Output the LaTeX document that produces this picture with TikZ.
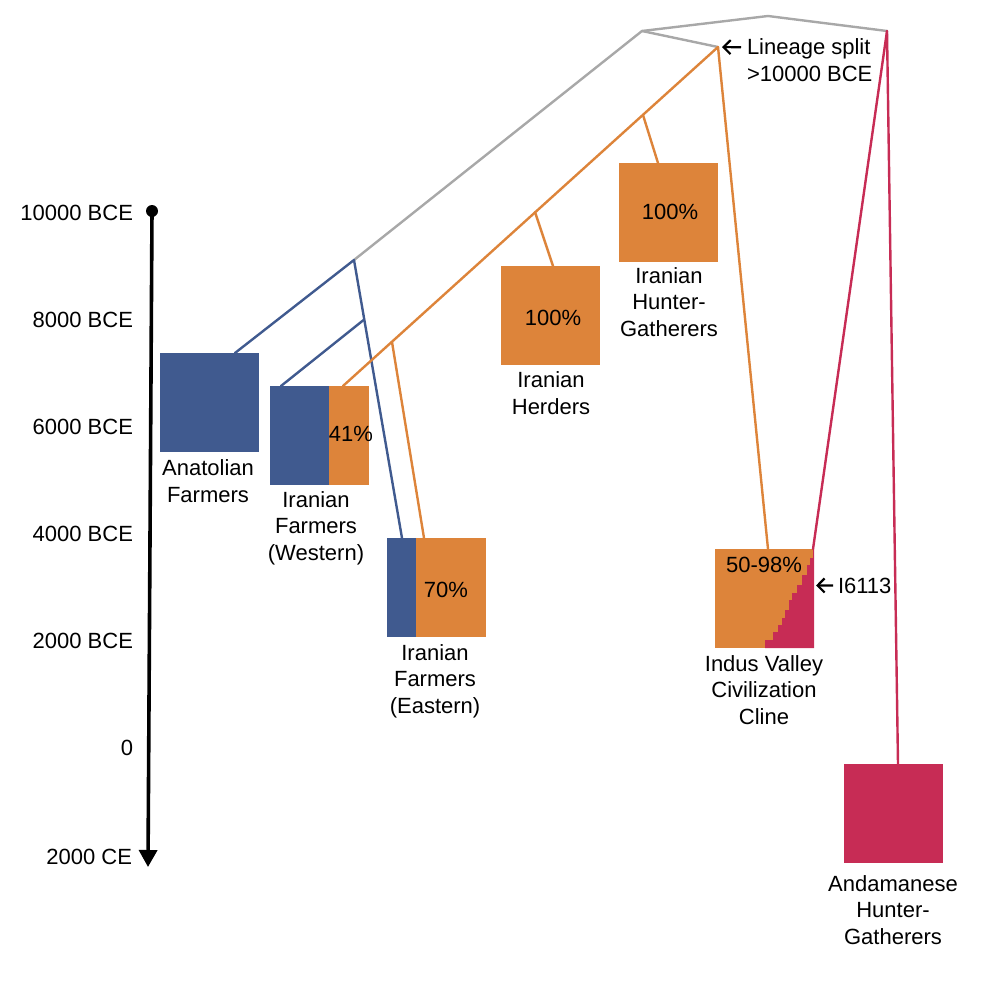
\documentclass[tikz,border=0pt]{standalone}
\usepackage{fontspec}
\setmainfont{Liberation Sans}
\usetikzlibrary{arrows.meta,calc}
\definecolor{cblue}{HTML}{405A8F}
\definecolor{corange}{HTML}{DD843A}
\definecolor{cmag}{HTML}{C72C55}
\definecolor{cgray}{HTML}{A8A8A8}
\begin{document}
\begin{tikzpicture}[x=1pt,y=-1pt,
  box/.style={draw=none,rectangle,minimum width=99pt,minimum height=99pt,inner sep=0pt,outer sep=0pt,anchor=north west},
  txt/.style={font=\fontsize{22}{26.5}\selectfont,inner sep=0pt,outer sep=0pt},
  lab/.style={txt,align=center,anchor=base},
  pct/.style={txt,anchor=base},
  tl/.style={txt,anchor=base east},
  link/.style={line width=2.4pt,line cap=round,line join=round},
  pt/.style={coordinate}]
\useasboundingbox (0,0) rectangle (996,996);
% timeline
\node[circle,fill=black,inner sep=0pt,minimum size=12pt] (tltop) at (152,211) {};
\coordinate (tlbot) at (148,867);
\draw[line width=3.6pt,-{Triangle[length=17pt,width=18pt]}] (tltop.center) -- (tlbot);
\node[tl] (t1) at (133,220) {10000 BCE};
\node[tl] (t2) at (133,327) {8000 BCE};
\node[tl] (t3) at (133,434) {6000 BCE};
\node[tl] (t4) at (133,541) {4000 BCE};
\node[tl] (t5) at (133,648) {2000 BCE};
\node[tl] (t6) at (133,755) {0};
\node[tl] (t7) at (132,864) {2000 CE};
% boxes
\node[box,fill=cblue] (anat) at (160,353) {};
\node[box,fill=corange] (west) at (270,386) {};
\fill[cblue] (west.north west) rectangle ($(west.south west)+(59,0)$);
\node[box,fill=corange] (east) at (387,538) {};
\fill[cblue] (east.north west) rectangle ($(east.south west)+(29,0)$);
\node[box,fill=corange] (herd) at (501,266) {};
\node[box,fill=corange] (hg) at (619,163) {};
\node[box,fill=corange] (indus) at (715,549) {};
\fill[cmag] (813,549) -- (813,558) -- (810,558) -- (810,565) -- (807,565) -- (807,575) -- (802,575) -- (802,585) -- (797,585) -- (797,593) -- (792,593) -- (792,600) -- (789,600) -- (789,610) -- (785,610) -- (785,618) -- (782,618) -- (782,625) -- (778,625) -- (778,632) -- (773,632) -- (773,640) -- (765,640) -- (765,648) -- (814,648) -- (814,549) -- cycle;
\node[box,fill=cmag] (anda) at (844,764) {};
% percentages
\node[pct] (p41) at (351,441) {41\%};
\node[pct] (p70) at (446,597) {70\%};
\node[pct] (pherd) at (553,325) {100\%};
\node[pct] (phg) at (670,219) {100\%};
\node[pct] (pind) at (764,572) {50-98\%};
% labels (base anchor = last line baseline)
\node[lab] (lanat) at (208,502) {Anatolian\\Farmers};
\node[lab] (lwest) at (316,560) {Iranian\\Farmers\\(Western)};
\node[lab] (least) at (435,713) {Iranian\\Farmers\\(Eastern)};
\node[lab] (lherd) at (551,414) {Iranian\\Herders};
\node[lab] (lhg) at (669,336) {Iranian\\Hunter-\\Gatherers};
\node[lab] (lind) at (764,724) {Indus Valley\\Civilization\\Cline};
\node[lab] (landa) at (893,944) {Andamanese\\Hunter-\\Gatherers};
% split points
\node[pt] (g1) at (642,31) {};
\node[pt] (g2) at (768,16) {};
\node[pt] (g3) at (887,31) {};
\node[pt] (bs) at (354,260) {};
\node[pt] (bs2) at (363.6,320) {};
\node[pt] (os) at (718,47) {};
\node[pt] (osh) at (535,212) {};
\node[pt] (oshg) at (643,115) {};
\node[pt] (ose) at (392,342) {};
% gray lines
\draw[link,cgray] (bs) -- (g1) -- (g2) -- (g3);
\draw[link,cgray] (g1) -- (os);
% blue lines
\draw[link,cblue] ($(anat.north west)+(75,0)$) -- (bs) -- ($(east.north west)+(15,0)$);
\draw[link,cblue] (bs2) -- ($(west.north west)+(11,0)$);
% orange lines
\draw[link,corange] (os) -- ($(west.north west)+(73,0)$);
\draw[link,corange] (ose) -- ($(east.north west)+(37,0)$);
\draw[link,corange] (osh) -- ($(herd.north west)+(52,0)$);
\draw[link,corange] (oshg) -- ($(hg.north west)+(39,0)$);
\draw[link,corange] (os) -- ($(indus.north west)+(53,0)$);
% magenta lines
\draw[link,cmag] (g3) -- ($(indus.north east)+(-1,0)$);
\draw[link,cmag] (g3) -- ($(anda.north west)+(54,0)$);
% annotations
\node[txt,anchor=base west] (split) at (747,54) {Lineage split};
\node[txt,anchor=base west] (split2) at (747,81) {>10000 BCE};
\draw[line width=2.2pt,-{Straight Barb[length=7pt,width=14pt]}] ($(split.west)+(-6,-1)$) -- ($(os)+(4,0)$);
\node[txt,anchor=base west] (i6113) at (838,593) {I6113};
\draw[line width=2.2pt,-{Straight Barb[length=7pt,width=14pt]}] ($(i6113.west)+(-5,0)$) -- ($(indus.east)+(2,-13)$);
\end{tikzpicture}
\end{document}
